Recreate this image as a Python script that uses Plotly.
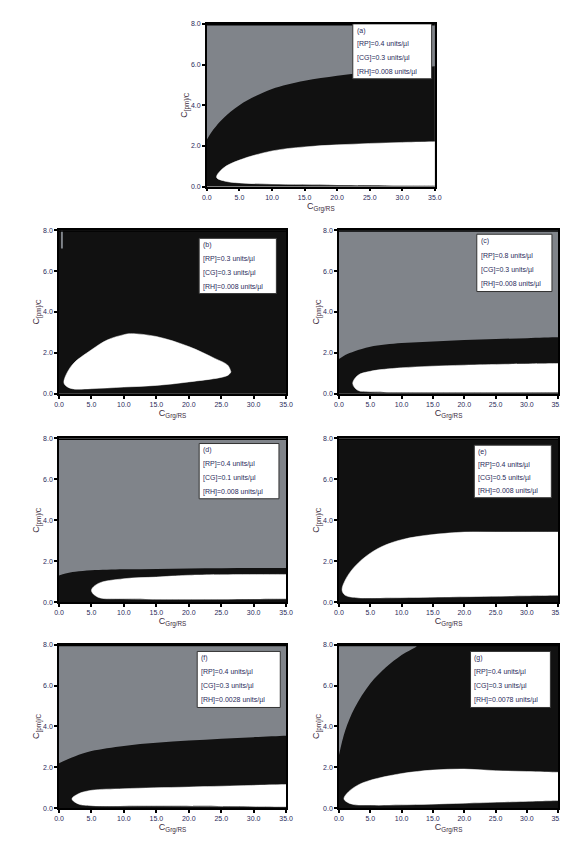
import plotly.graph_objects as go

# ---- data (x = C_Grg/RS, y = C_[pm]/C) ----
PANELS = ["a", "b", "c", "d", "e", "f", "g"]

# gray / black boundary (gray lies above it)
gray_x = {
    "a": [0, 1, 2.5, 5, 7.5, 10, 15, 20, 25, 30, 35],
    "b": [0.3, 0.6, 0.6, 0.3],
    "c": [0, 1, 2.5, 5, 10, 15, 20, 25, 30, 35],
    "d": [0, 1, 2.5, 5, 10, 15, 20, 25, 30, 35],
    "e": [],
    "f": [0, 1, 2.5, 5, 10, 15, 20, 25, 30, 35],
    "g": [0, 1, 2.5, 5, 7.5, 10, 12.5],
}
gray_y = {
    "a": [2.3, 2.8, 3.35, 4.0, 4.45, 4.8, 5.2, 5.45, 5.65, 5.8, 5.92],
    "b": [7.1, 7.1, 8.0, 8.0],
    "c": [1.7, 1.9, 2.08, 2.3, 2.48, 2.56, 2.63, 2.68, 2.72, 2.76],
    "d": [1.3, 1.4, 1.48, 1.55, 1.6, 1.62, 1.64, 1.65, 1.66, 1.67],
    "e": [],
    "f": [2.2, 2.35, 2.55, 2.8, 3.05, 3.2, 3.31, 3.4, 3.48, 3.55],
    "g": [2.6, 3.8, 4.9, 6.1, 6.9, 7.5, 8.0],
}

# white region: upper edge (left to right) and lower edge (left to right)
up_x = {
    "a": [1.5, 2.5, 5, 10, 15, 20, 25, 30, 35],
    "b": [0.75, 2, 5, 7.5, 10, 11, 15, 20, 24, 26, 26.5],
    "c": [2.2, 3, 5, 10, 20, 35],
    "d": [5, 6, 10, 15, 20, 35],
    "e": [0.5, 1, 2.5, 5, 7.5, 10, 12.5, 15, 20, 25, 35],
    "f": [2, 3, 5, 10, 20, 35],
    "g": [0.8, 1.5, 3, 5, 10, 15, 20, 25, 30, 35],
}
up_y = {
    "a": [0.45, 0.9, 1.3, 1.75, 1.95, 2.05, 2.12, 2.17, 2.2],
    "b": [0.58, 1.4, 2.15, 2.64, 2.89, 2.94, 2.8, 2.31, 1.73, 1.4, 1.07],
    "c": [0.5, 0.9, 1.1, 1.27, 1.4, 1.48],
    "d": [0.57, 0.9, 1.14, 1.22, 1.31, 1.35],
    "e": [0.58, 1.07, 1.73, 2.39, 2.8, 3.05, 3.2, 3.3, 3.42, 3.42, 3.42],
    "f": [0.46, 0.71, 0.88, 0.96, 1.04, 1.16],
    "g": [0.46, 0.8, 1.13, 1.37, 1.7, 1.87, 1.92, 1.84, 1.8, 1.76],
}
lo_x = {
    "a": [1.5, 3, 5, 10, 20, 35],
    "b": [0.75, 1, 2, 5, 10, 15, 20, 26, 26.5],
    "c": [2.2, 3, 5, 10, 35],
    "d": [5, 6, 10, 35],
    "e": [0.5, 1, 3, 5, 35],
    "f": [2, 3, 5, 15, 35],
    "g": [0.8, 2, 5, 10, 20, 35],
}
lo_y = {
    "a": [0.45, 0.25, 0.18, 0.12, 0.08, 0.05],
    "b": [0.58, 0.41, 0.25, 0.25, 0.33, 0.41, 0.58, 0.9, 1.07],
    "c": [0.5, 0.17, 0.1, 0.08, 0.08],
    "d": [0.57, 0.24, 0.16, 0.16],
    "e": [0.58, 0.33, 0.21, 0.2, 0.33],
    "f": [0.46, 0.21, 0.13, 0.12, 0.08],
    "g": [0.46, 0.21, 0.16, 0.17, 0.25, 0.38],
}

legend_lines = {
    "a": ["(a)", "[RP]=0.4 units/µl", "[CG]=0.3 units/µl", "[RH]=0.008 units/µl"],
    "b": ["(b)", "[RP]=0.3 units/µl", "[CG]=0.3 units/µl", "[RH]=0.008 units/µl"],
    "c": ["(c)", "[RP]=0.8 units/µl", "[CG]=0.3 units/µl", "[RH]=0.008 units/µl"],
    "d": ["(d)", "[RP]=0.4 units/µl", "[CG]=0.1 units/µl", "[RH]=0.008 units/µl"],
    "e": ["(e)", "[RP]=0.4 units/µl", "[CG]=0.5 units/µl", "[RH]=0.008 units/µl"],
    "f": ["(f)", "[RP]=0.4 units/µl", "[CG]=0.3 units/µl", "[RH]=0.0028 units/µl"],
    "g": ["(g)", "[RP]=0.4 units/µl", "[CG]=0.3 units/µl", "[RH]=0.0078 units/µl"],
}

x_ticks = [0, 5, 10, 15, 20, 25, 30, 35]
y_ticks = [0, 2, 4, 6, 8]

# ---- layout (pixel boxes of each plot area) ----
W, H = 568, 841
boxes = {
    "a": (198, 431, 12, 176),
    "b": (47, 279, 220, 385),
    "c": (333, 557, 220, 385),
    "d": (47, 279, 430, 595),
    "e": (333, 557, 430, 595),
    "f": (47, 279, 638, 803),
    "g": (333, 557, 638, 803),
}
# legend box in data coords: x0, x1, y_top, y_bottom
leg_box = {
    "a": (22.4, 34.5, 8.0, 5.3),
    "b": (21.6, 33.5, 7.6, 4.9),
    "c": (22.0, 34.0, 7.8, 5.0),
    "d": (21.6, 33.9, 7.75, 5.05),
    "e": (21.6, 33.9, 7.67, 5.1),
    "f": (21.3, 34.1, 7.67, 4.93),
    "g": (21.0, 33.75, 7.67, 4.93),
}

GRAY = "#80848a"
BLACK = "#111111"
TICK_COL = "#2b2b5a"
TITLE_COL = "#3a2a3a"

fig = go.Figure()
layout = dict(
    width=W, height=H, margin=dict(l=0, r=0, t=0, b=0),
    paper_bgcolor="white", plot_bgcolor=BLACK, showlegend=False,
    font=dict(family="Liberation Sans, Arial", size=7, color=TICK_COL),
)
shapes, annotations = [], []

for n, p in enumerate(PANELS, start=1):
    xa = "x" if n == 1 else f"x{n}"
    ya = "y" if n == 1 else f"y{n}"
    l, r, t, b = boxes[p]

    axis_common = dict(
        showgrid=False, zeroline=False, showline=True, mirror=True,
        linecolor="black", linewidth=1.5, ticks="outside", ticklen=3,
        tickwidth=2, tickcolor="black", tickformat=".1f",
        tickfont=dict(size=7, color=TICK_COL),
    )
    layout["xaxis" if n == 1 else f"xaxis{n}"] = dict(
        axis_common, domain=[l / W, r / W], range=[0, 35],
        tickvals=x_ticks, anchor=ya,
        title=dict(text="C<sub>Grg/RS</sub>", standoff=2,
                   font=dict(size=9, color=TITLE_COL)),
    )
    layout["yaxis" if n == 1 else f"yaxis{n}"] = dict(
        axis_common, domain=[1 - b / H, 1 - t / H], range=[0, 8],
        tickvals=y_ticks, anchor=xa,
        title=dict(text="C<sub>[pm]/C</sub>", standoff=2,
                   font=dict(size=9, color=TITLE_COL)),
    )

    # gray region above the boundary
    if gray_x[p]:
        gx = list(gray_x[p])
        gy = list(gray_y[p])
        if p == "b":
            px_, py_ = gx, gy
        elif p == "g":
            px_, py_ = gx + [0], gy + [8.2]
        else:
            px_, py_ = gx + [36, 36, 0], gy + [gy[-1], 8.2, 8.2]
        fig.add_trace(go.Scatter(
            x=px_, y=py_, xaxis=xa, yaxis=ya, mode="lines",
            fill="toself", fillcolor=GRAY, line=dict(width=0, color=GRAY),
            line_shape="spline" if p != "b" else "linear", hoverinfo="skip",
        ))

    # white region
    wx = list(up_x[p]) + list(reversed(lo_x[p]))
    wy = list(up_y[p]) + list(reversed(lo_y[p]))
    if up_x[p][-1] >= 35:
        wx = list(up_x[p]) + [35.6, 35.6] + list(reversed(lo_x[p]))
        wy = list(up_y[p]) + [up_y[p][-1], lo_y[p][-1]] + list(reversed(lo_y[p]))
    fig.add_trace(go.Scatter(
        x=wx, y=wy, xaxis=xa, yaxis=ya, mode="lines", fill="toself",
        fillcolor="white", line=dict(width=0.5, color="white"),
        line_shape="spline", hoverinfo="skip",
    ))

    # heavy top frame
    shapes.append(dict(type="line", xref=xa, yref=ya, x0=0, x1=35, y0=8, y1=8,
                       line=dict(color="black", width=3)))

    # legend box
    x0, x1, yt, yb = leg_box[p]
    shapes.append(dict(type="rect", xref=xa, yref=ya, x0=x0, x1=x1, y0=yb, y1=yt,
                       fillcolor="white", line=dict(color="#333333", width=1)))
    lines = legend_lines[p]
    step = (yt - yb) / len(lines)
    for i, txt in enumerate(lines):
        annotations.append(dict(
            xref=xa, yref=ya, x=x0 + 0.3, y=yt - step * (i + 0.5),
            text=txt, showarrow=False, xanchor="left", yanchor="middle",
            font=dict(size=7, color=TICK_COL),
        ))

layout["shapes"] = shapes
layout["annotations"] = annotations
fig.update_layout(**layout)

fig.write_html("out.html")
